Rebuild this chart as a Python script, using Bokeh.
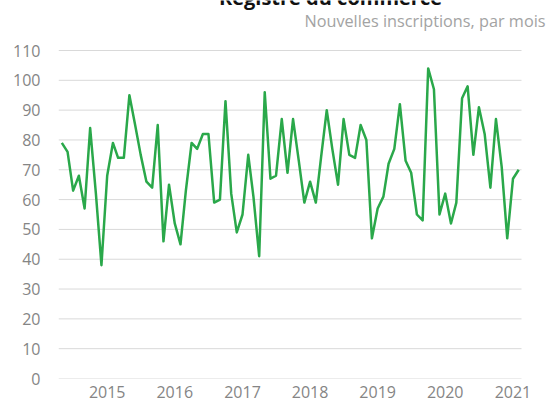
import datetime as dt
from bokeh.plotting import figure
from bokeh.models import Range1d, FixedTicker, DatetimeTickFormatter, Label, ColumnDataSource
from bokeh.embed import file_html
from bokeh.resources import INLINE

# ---------------- data ----------------
title_text = "Registre du commerce"
subtitle_text = "Nouvelles inscriptions, par mois"

first_year, first_month = 2014, 5          # first observation: May 2014
inscriptions = [
    79, 76, 63, 68, 57, 84, 62, 38,                      # 2014 (May-Dec)
    68, 79, 74, 74, 95, 85, 75, 66, 64, 85, 46, 65,      # 2015
    52, 45, 63, 79, 77, 82, 82, 59, 60, 93, 62, 49,      # 2016
    55, 75, 61, 41, 96, 67, 68, 87, 69, 87, 73, 59,      # 2017
    66, 59, 74, 90, 77, 65, 87, 75, 74, 85, 80, 47,      # 2018
    57, 61, 72, 77, 92, 73, 69, 55, 53, 104, 97, 55,     # 2019
    62, 52, 59, 94, 98, 75, 91, 82, 64, 87, 71, 47,      # 2020
    67, 70,                                              # 2021 (Jan-Feb)
]
year_ticks = [2015, 2016, 2017, 2018, 2019, 2020, 2021]
y_ticks = [0, 10, 20, 30, 40, 50, 60, 70, 80, 90, 100, 110]

# ---------------- build ----------------
EPOCH = dt.datetime(1970, 1, 1)
def ms(d):
    return (d - EPOCH).total_seconds() * 1000.0

months = []
yy, mm = first_year, first_month
for _ in inscriptions:
    months.append(dt.datetime(yy, mm, 1))
    mm += 1
    if mm > 12:
        mm = 1
        yy += 1

src = ColumnDataSource(data=dict(month=months, value=inscriptions))

W, H = 547, 401
# plot area of the chart (where the grid lives), in canvas pixels
PL, PR, PT, PB = 58, 521, 50, 378
# the Bokeh frame is stretched to the top and right edges so that the
# heading texts (annotations are clipped to the frame) remain visible
BL, BB = PL, H - PB
X0, X1 = dt.datetime(2014, 4, 13), dt.datetime(2021, 2, 16)   # grid extent
Y0, Y1 = 0, 110
x_end = ms(X0) + (ms(X1) - ms(X0)) * (W - PL) / (PR - PL)
y_end = Y0 + (Y1 - Y0) * (PB - 0) / (PB - PT)

p = figure(
    width=W, height=H,
    x_axis_type="datetime",
    x_range=Range1d(ms(X0), x_end),
    y_range=Range1d(Y0, y_end),
    output_backend="svg",
    toolbar_location=None,
    min_border_left=BL, min_border_right=0,
    min_border_top=0, min_border_bottom=BB,
    background_fill_color="white",
    border_fill_color="white",
    outline_line_color=None,
)
p.title.text = ""

# horizontal grid lines, limited to the chart's plot area
n = len(y_ticks)
p.segment(x0=[X0] * n, x1=[X1] * n, y0=y_ticks, y1=y_ticks,
          line_color="#d9d9d9", line_width=1)

p.line("month", "value", source=src, line_color="#2aa84a", line_width=2.5,
       line_join="round")

# axes
p.xaxis.ticker = FixedTicker(ticks=[ms(dt.datetime(y, 1, 1)) for y in year_ticks])
p.xaxis.formatter = DatetimeTickFormatter(
    years="%Y", months="%Y", days="%Y", hours="%Y", minutes="%Y",
    seconds="%Y", milliseconds="%Y", microseconds="%Y")
p.yaxis.ticker = FixedTicker(ticks=y_ticks)

for ax in (p.xaxis[0], p.yaxis[0]):
    ax.axis_line_color = None
    ax.major_tick_line_color = None
    ax.minor_tick_line_color = None
    ax.major_tick_out = 0
    ax.major_tick_in = 0
    ax.major_label_text_font = "Open Sans"
    ax.major_label_text_font_size = "16px"
    ax.major_label_text_color = "#858585"
p.yaxis.major_label_standoff = 18
p.xaxis.major_label_standoff = 7

p.xgrid.grid_line_color = None
p.ygrid.grid_line_color = None

# texts above the plot area (screen units from the frame's lower-left corner)
p.add_layout(Label(x=545 - BL, y=PB - 20, x_units="screen", y_units="screen",
                   text=subtitle_text, text_align="right",
                   text_baseline="alphabetic", text_font="Open Sans",
                   text_font_size="16.25px", text_color="#a3a3a3"))
p.add_layout(Label(x=330 - BL, y=PB + 3.5, x_units="screen", y_units="screen",
                   text=title_text, text_align="center",
                   text_baseline="alphabetic", text_font="Open Sans",
                   text_font_style="bold", text_font_size="20px",
                   text_color="#111111"))

open("out.html", "w").write(file_html(p, INLINE))
